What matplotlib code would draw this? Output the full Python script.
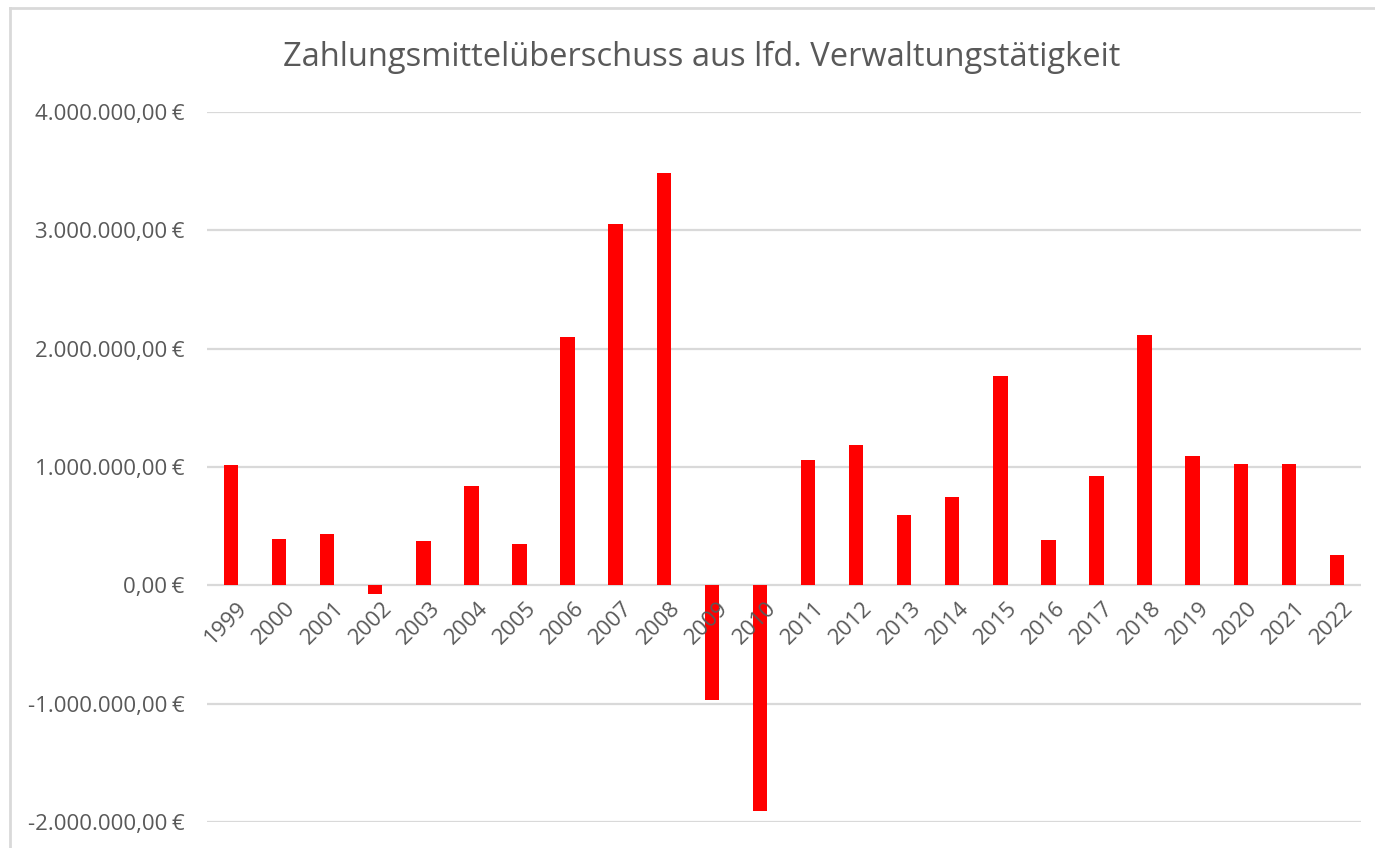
import matplotlib
matplotlib.use("Agg")
import matplotlib.pyplot as plt
from matplotlib.lines import Line2D
from matplotlib.ticker import FuncFormatter
from matplotlib.transforms import ScaledTranslation

years = [str(y) for y in range(1999, 2023)]
values = [1020000, 395000, 430000, -70000, 375000, 840000, 350000, 2100000,
          3050000, 3480000, -970000, -1910000, 1055000, 1185000, 590000, 750000,
          1765000, 385000, 920000, 2118000, 1092000, 1024000, 1024000, 257000]

TEXT = "#595959"
GRID = "#d9d9d9"
plt.rcParams['font.family'] = ['Open Sans', 'DejaVu Sans']

fig = plt.figure(figsize=(13.75, 8.48), dpi=100)
ax = fig.add_axes([0.1505, 0.0307, 0.8393, 0.8373])

yticks = list(range(-2000000, 4000001, 1000000))
for t in yticks:
    ax.axhline(t, color=GRID, linewidth=1.6, zorder=0.5)

x = range(len(years))
ax.bar(x, values, width=0.3, color="#ff0000", zorder=1)

ax.set_ylim(-2000000, 4000000)
ax.set_xlim(-0.5, len(years) - 0.5)
ax.set_yticks(yticks)

def euro(v, pos):
    s = f"{v:,.2f}".replace(",", "X").replace(".", ",").replace("X", ".")
    return s + "\u202f€"
ax.yaxis.set_major_formatter(FuncFormatter(euro))

ax.set_axisbelow(False)
for s in ["top", "right", "left"]:
    ax.spines[s].set_visible(False)
ax.spines["bottom"].set_position(("data", 0))
ax.spines["bottom"].set_visible(False)

ax.set_xticks(list(x))
ax.set_xticklabels(years, rotation=45, ha="right", rotation_mode="anchor")
ax.tick_params(axis="x", length=0, pad=9, labelsize=16, labelcolor=TEXT)
ax.tick_params(axis="y", length=0, pad=16, labelsize=16, labelcolor=TEXT)
shift = ScaledTranslation(6 / 100, 0, fig.dpi_scale_trans)
for lab in ax.get_xticklabels():
    lab.set_transform(lab.get_transform() + shift)

fig.text(0.51, 0.932, "Zahlungsmittelüberschuss aus lfd. Verwaltungstätigkeit",
         ha="center", va="center", fontsize=23.5, color=TEXT)

# chart frame (cropped)
fig.add_artist(Line2D([10 / 1375, 10 / 1375], [0, 1 - 8 / 848], color=GRID, linewidth=2))
fig.add_artist(Line2D([10 / 1375, 1], [1 - 8 / 848, 1 - 8 / 848], color=GRID, linewidth=2))

fig.savefig("out.png", dpi=100)
